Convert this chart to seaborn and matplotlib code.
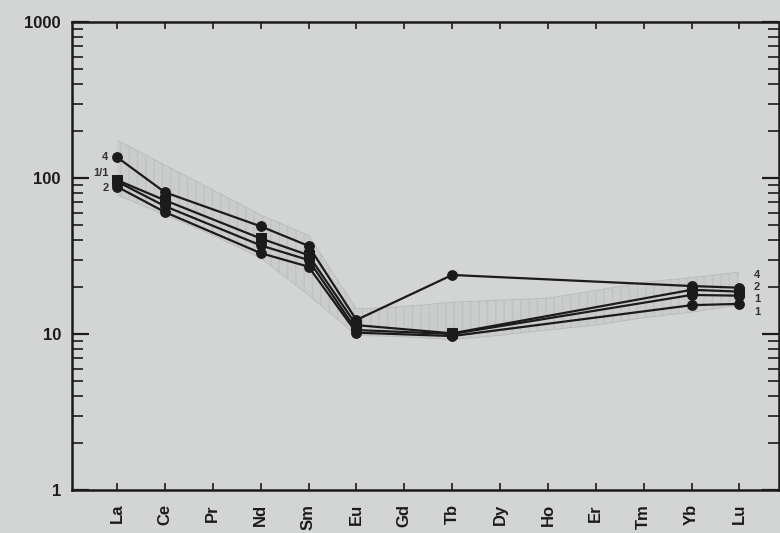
import numpy as np
import pandas as pd
import matplotlib
matplotlib.use("Agg")
import matplotlib.pyplot as plt
import seaborn as sns
from matplotlib.ticker import LogLocator, NullFormatter, FixedLocator

# Chondrite-normalised REE pattern
elements = ["La", "Ce", "Pr", "Nd", "Sm", "Eu", "Gd", "Tb", "Dy", "Ho", "Er", "Tm", "Yb", "Lu"]
sample_elements = ["La", "Ce", "Nd", "Sm", "Eu", "Tb", "Yb", "Lu"]

sample_4 = [136, 81, 49, 36.7, 12.3, 23.9, 20.3, 19.8]
sample_1 = [97, 72, 41, 32, 11.4, 10.1, 19.2, 18.7]
sample_3 = [95, 66, 37, 29.8, 10.6, 10.0, 17.8, 17.6]
sample_2 = [88, 60.5, 33, 27, 10.2, 9.7, 15.3, 15.6]

# Reference field (envelope) for comparison
field_upper = [175, 121, 84, 58, 43, 14.5, 15.0, 16.0, 16.5, 17.0, 19.0, 21.5, 23.0, 25.0]
field_lower = [78, 58, 43, 30.7, 17.8, 9.8, 9.6, 9.2, 9.8, 10.6, 11.4, 12.7, 13.8, 15.3]

y_ticks = [1, 10, 100, 1000]
y_tick_labels = ["1", "10", "100", "1000"]

left_labels = ["4", "1/1", "2"]
left_label_values = [136, 108, 86]
right_labels = ["4", "2", "1", "1"]
right_label_values = [24.0, 19.9, 16.8, 13.9]

sns.set_theme(style="ticks")
plt.rcParams["font.family"] = ["Liberation Sans", "DejaVu Sans"]

bg = "#d3d5d4"
ink = "#1b1b1b"

fig = plt.figure(figsize=(7.8, 5.33), dpi=100, facecolor=bg)
ax = fig.add_axes([0.0923, 0.0807, 0.906, 0.878], facecolor=bg)

pos = {e: i for i, e in enumerate(elements)}
xs_all = np.arange(len(elements))

# shaded field with vertical hatching
ax.fill_between(xs_all, field_lower, field_upper, facecolor="#a4a6a5", alpha=0.16,
                edgecolor="#8c8e8d", hatch="||", linewidth=0)
ax.plot(xs_all, field_upper, color="#9a9c9b", lw=0.6, alpha=0.4)
ax.plot(xs_all, field_lower, color="#9a9c9b", lw=0.6, alpha=0.4)

rows = []
for name, vals in [("1", sample_1), ("2", sample_2), ("3", sample_3), ("4", sample_4)]:
    for e, v in zip(sample_elements, vals):
        rows.append({"sample": name, "x": pos[e], "value": v})
df = pd.DataFrame(rows)

markers = {"1": "s", "2": "o", "3": "o", "4": "o"}
sns.lineplot(data=df, x="x", y="value", hue="sample", style="sample",
             markers=markers, dashes=False, palette=[ink] * 4,
             linewidth=1.6, markersize=7, markeredgecolor=ink,
             legend=False, ax=ax, sort=False)

ax.set_yscale("log")
ax.set_ylim(1, 1000)
ax.set_xlim(-0.94, 13.82)

ax.yaxis.set_major_locator(FixedLocator(y_ticks))
ax.set_yticklabels(y_tick_labels)
ax.yaxis.set_minor_locator(LogLocator(base=10, subs=np.arange(2, 10)))
ax.yaxis.set_minor_formatter(NullFormatter())
ax.set_xticks(xs_all)
ax.set_xticklabels(elements, rotation=90)

ax.tick_params(axis="both", which="both", direction="in", top=True, right=True,
               colors=ink)
ax.tick_params(axis="y", which="major", length=12, width=1.6, labelsize=12, pad=8)
ax.tick_params(axis="y", which="minor", length=8, width=1.2)
ax.tick_params(axis="x", which="major", length=5, width=1.2, labelsize=12, pad=10)
for lab in ax.get_xticklabels() + ax.get_yticklabels():
    lab.set_fontweight("heavy")
    lab.set_color(ink)

for s in ax.spines.values():
    s.set_color(ink)
    s.set_linewidth(1.8)

ax.set_xlabel("")
ax.set_ylabel("")

for t, v in zip(left_labels, left_label_values):
    ax.text(-0.18, v, t, ha="right", va="center", fontsize=8, fontweight="bold", color="#333333")
for t, v in zip(right_labels, right_label_values):
    ax.text(13.3, v, t, ha="left", va="center", fontsize=8, fontweight="bold", color="#333333")

fig.savefig("out.png", dpi=100, facecolor=bg)
